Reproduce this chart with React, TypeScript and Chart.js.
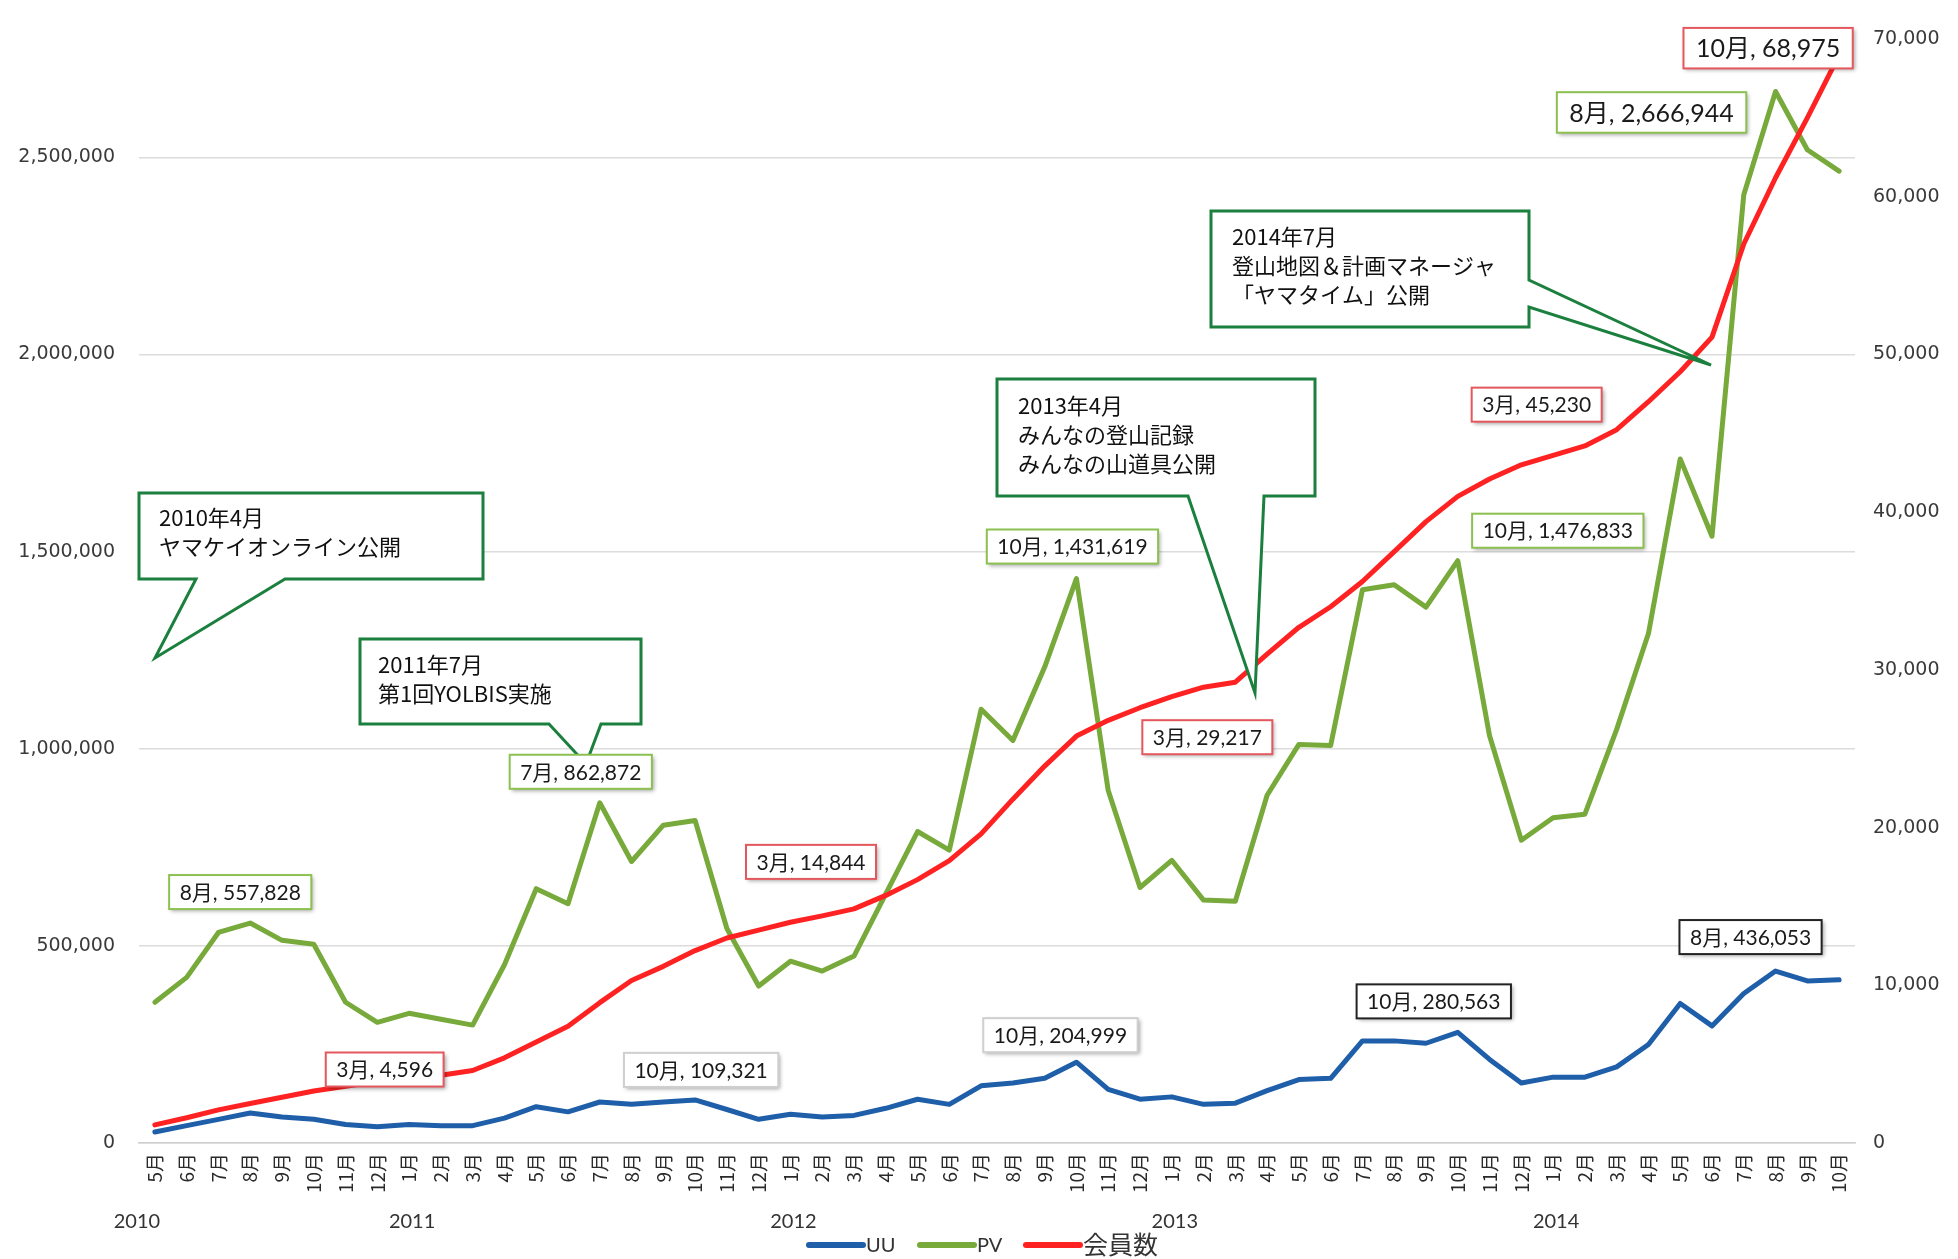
import { useEffect, useRef } from 'react';
import { Chart, registerables } from 'chart.js';

Chart.register(...registerables);

// ---------- data ----------
const months = [
  '5月', '6月', '7月', '8月', '9月', '10月', '11月', '12月',
  '1月', '2月', '3月', '4月', '5月', '6月', '7月', '8月', '9月', '10月', '11月', '12月',
  '1月', '2月', '3月', '4月', '5月', '6月', '7月', '8月', '9月', '10月', '11月', '12月',
  '1月', '2月', '3月', '4月', '5月', '6月', '7月', '8月', '9月', '10月', '11月', '12月',
  '1月', '2月', '3月', '4月', '5月', '6月', '7月', '8月', '9月', '10月',
];
const years = ['2010', '2011', '2012', '2013', '2014'];
const yearStartIndex = [0, 8, 20, 32, 44];

const uu = [
  28000, 44000, 60000, 76000, 66000, 60000, 47000, 41000,
  47000, 44000, 44000, 63000, 92000, 79000, 104000, 98000, 104000, 109321, 85000, 60000,
  73000, 66000, 70000, 88000, 111000, 98000, 145000, 152000, 164000, 204999, 136000, 111000,
  117000, 98000, 101000, 133000, 161000, 164000, 259000, 259000, 253000, 280563, 212000, 152000,
  167000, 167000, 193000, 250000, 354000, 297000, 379000, 436053, 411000, 414000,
];
const pv = [
  357000, 420000, 534000, 557828, 514000, 504000, 357000, 306000,
  329000, 314000, 299000, 452000, 645000, 607000, 862872, 714000, 806000, 818000, 544000, 398000,
  461000, 436000, 474000, 632000, 790000, 743000, 1100000, 1021000, 1207000, 1431619, 894000, 648000,
  717000, 616000, 613000, 882000, 1011000, 1008000, 1403000, 1416000, 1359000, 1476833, 1033000, 768000,
  825000, 834000, 1049000, 1292000, 1735000, 1539000, 2405000, 2666944, 2519000, 2465000,
];
const members = [
  1150, 1600, 2100, 2500, 2900, 3300, 3600, 3900,
  4000, 4300, 4596, 5400, 6400, 7400, 8900, 10300, 11200, 12200, 13000, 13500,
  14000, 14400, 14844, 15700, 16700, 17900, 19600, 21800, 23900, 25800, 26800, 27600,
  28300, 28900, 29217, 31000, 32700, 34000, 35600, 37500, 39400, 41000, 42100, 43000,
  43600, 44200, 45230, 47000, 48900, 51100, 57000, 61200, 65000, 68975,
];
const seriesNames = ['UU', 'PV', '会員数'];

const leftTicks = [0, 500000, 1000000, 1500000, 2000000, 2500000];
const leftMax = 2800000;
const rightTicks = [0, 10000, 20000, 30000, 40000, 50000, 60000, 70000];
const rightMax = 70000;

// labelled points (indices)
const labelledUU = [17, 29, 41, 51];
const labelledPV = [3, 14, 29, 41, 51];
const labelledMembers = [10, 22, 34, 46, 53];

const calloutTexts = [
  ['2010年4月', 'ヤマケイオンライン公開'],
  ['2011年7月', '第1回YOLBIS実施'],
  ['2013年4月', 'みんなの登山記録', 'みんなの山道具公開'],
  ['2014年7月', '登山地図＆計画マネージャ', '「ヤマタイム」公開'],
];

// ---------- styles / placement ----------
const COLORS = { uu: '#1f5ea8', pv: '#77a93b', members: '#ff2222' };
const LABEL_FONT = "Lato, 'Noto Sans CJK JP', sans-serif";
const CJK_FONT = "'Noto Sans CJK JP', sans-serif";
const TICK_FONT = "'DejaVu Sans', sans-serif";

const uuPlace = [
  { dx: 6, dy: -30, border: '#cfcfcf', size: 21 },
  { dx: -16, dy: -27, border: '#cfcfcf', size: 21 },
  { dx: -24, dy: -31, border: '#222222', size: 21 },
  { dx: -25, dy: -34, border: '#222222', size: 21 },
];
const pvPlace = [
  { dx: -10, dy: -31, size: 21 },
  { dx: -19, dy: -31, size: 21 },
  { dx: -4, dy: -32, size: 21 },
  { dx: 100, dy: -30, size: 21 },
  { dx: -124, dy: 21, size: 25 },
];
const memPlace = [
  { dx: -88, dy: -1, size: 21 },
  { dx: -43, dy: -47, size: 21 },
  { dx: -28, dy: 55, size: 21 },
  { dx: -80, dy: -25, size: 21 },
  { dx: -71, dy: -7, size: 25 },
];

const calloutGeom = [
  { x0: 139, y0: 493, x1: 483, y1: 579, side: 'bottom', b1: 196, b2: 285, tx: 155, ty: 658, tX: 159, tY: 518 },
  { x0: 360, y0: 639, x1: 641, y1: 724, side: 'bottom', b1: 549, b2: 601, tx: 586, ty: 764, tX: 378, tY: 665 },
  { x0: 997, y0: 379, x1: 1315, y1: 496, side: 'bottom', b1: 1188, b2: 1264, tx: 1255, ty: 693, tX: 1018, tY: 406 },
  { x0: 1211, y0: 211, x1: 1529, y1: 327, side: 'right', b1: 280, b2: 307, tx: 1711, ty: 365, tX: 1232, tY: 237 },
];

const fmt = (v: number) => v.toLocaleString('en-US');

function drawLabelBox(ctx: CanvasRenderingContext2D, cx: number, cy: number, text: string, size: number, border: string) {
  ctx.save();
  ctx.font = `${size}px ${LABEL_FONT}`;
  const tw = ctx.measureText(text).width;
  const padX = size * 0.5;
  const w = tw + padX * 2;
  const h = size * 1.62;
  const x = cx - w / 2;
  const y = cy - h / 2;
  ctx.shadowColor = 'rgba(0,0,0,0.35)';
  ctx.shadowBlur = 4;
  ctx.shadowOffsetX = 2;
  ctx.shadowOffsetY = 2;
  ctx.fillStyle = '#ffffff';
  ctx.fillRect(x, y, w, h);
  ctx.shadowColor = 'transparent';
  ctx.strokeStyle = border;
  ctx.lineWidth = 2;
  ctx.strokeRect(x, y, w, h);
  ctx.fillStyle = '#1a1a1a';
  ctx.textAlign = 'center';
  ctx.textBaseline = 'middle';
  ctx.fillText(text, cx, cy + 1);
  ctx.restore();
}

function drawCallout(ctx: CanvasRenderingContext2D, g: any, lines: string[]) {
  ctx.save();
  ctx.beginPath();
  if (g.side === 'bottom') {
    ctx.moveTo(g.x0, g.y0);
    ctx.lineTo(g.x1, g.y0);
    ctx.lineTo(g.x1, g.y1);
    ctx.lineTo(g.b2, g.y1);
    ctx.lineTo(g.tx, g.ty);
    ctx.lineTo(g.b1, g.y1);
    ctx.lineTo(g.x0, g.y1);
  } else {
    ctx.moveTo(g.x0, g.y0);
    ctx.lineTo(g.x1, g.y0);
    ctx.lineTo(g.x1, g.b1);
    ctx.lineTo(g.tx, g.ty);
    ctx.lineTo(g.x1, g.b2);
    ctx.lineTo(g.x1, g.y1);
    ctx.lineTo(g.x0, g.y1);
  }
  ctx.closePath();
  ctx.fillStyle = '#ffffff';
  ctx.fill();
  ctx.lineJoin = 'miter';
  ctx.strokeStyle = '#1b7f3e';
  ctx.lineWidth = 3;
  ctx.stroke();
  ctx.fillStyle = '#111111';
  ctx.font = `22px ${CJK_FONT}`;
  ctx.textAlign = 'left';
  ctx.textBaseline = 'middle';
  lines.forEach((l, i) => ctx.fillText(l, g.tX, g.tY + i * 29));
  ctx.restore();
}

const overlayPlugin = {
  id: 'overlay',
  afterDatasetsDraw(chart: any) {
    const ctx = chart.ctx as CanvasRenderingContext2D;
    const xs = chart.scales.x;
    const yl = chart.scales.y;
    const yr = chart.scales.y1;

    calloutGeom.forEach((g, i) => drawCallout(ctx, g, calloutTexts[i]));

    labelledPV.forEach((idx, k) => {
      const p = pvPlace[k];
      drawLabelBox(ctx, xs.getPixelForValue(idx) + p.dx, yl.getPixelForValue(pv[idx]) + p.dy,
        `${months[idx]}, ${fmt(pv[idx])}`, p.size, '#8cc152');
    });
    labelledMembers.forEach((idx, k) => {
      const p = memPlace[k];
      drawLabelBox(ctx, xs.getPixelForValue(idx) + p.dx, yr.getPixelForValue(members[idx]) + p.dy,
        `${months[idx]}, ${fmt(members[idx])}`, p.size, '#e4585d');
    });
    labelledUU.forEach((idx, k) => {
      const p = uuPlace[k];
      drawLabelBox(ctx, xs.getPixelForValue(idx) + p.dx, yl.getPixelForValue(uu[idx]) + p.dy,
        `${months[idx]}, ${fmt(uu[idx])}`, p.size, p.border);
    });
  },
  afterDraw(chart: any) {
    const ctx = chart.ctx as CanvasRenderingContext2D;
    const xs = chart.scales.x;
    ctx.save();
    // year labels
    ctx.font = `20px ${LABEL_FONT}`;
    ctx.fillStyle = '#333333';
    ctx.textAlign = 'center';
    ctx.textBaseline = 'middle';
    years.forEach((y, i) => {
      const shift = i === 0 ? -18 : 3;
      ctx.fillText(y, xs.getPixelForValue(yearStartIndex[i]) + shift, 1222);
    });
    // legend
    const colors = [COLORS.uu, COLORS.pv, COLORS.members];
    const lineStarts = [809, 920, 1026];
    const fontSizes = [20, 20, 25];
    const ly = 1245;
    seriesNames.forEach((name, i) => {
      ctx.strokeStyle = colors[i];
      ctx.lineWidth = 6;
      ctx.lineCap = 'round';
      ctx.beginPath();
      ctx.moveTo(lineStarts[i], ly);
      ctx.lineTo(lineStarts[i] + 54, ly);
      ctx.stroke();
      ctx.font = `${fontSizes[i]}px ${LABEL_FONT}`;
      ctx.fillStyle = '#333333';
      ctx.textAlign = 'left';
      ctx.fillText(name, lineStarts[i] + 57, ly + 1);
    });
    ctx.restore();
  },
};

export default function App() {
  const ref = useRef<HTMLCanvasElement | null>(null);

  useEffect(() => {
    if (!ref.current) return;
    const common = { pointRadius: 0, pointHoverRadius: 0, borderWidth: 5, tension: 0, fill: false, borderJoinStyle: 'round' as const, borderCapStyle: 'round' as const };
    const chart = new Chart(ref.current, {
      type: 'line',
      data: {
        labels: months,
        datasets: [
          { ...common, label: seriesNames[0], data: uu, borderColor: COLORS.uu, backgroundColor: COLORS.uu, yAxisID: 'y', order: 3 },
          { ...common, label: seriesNames[1], data: pv, borderColor: COLORS.pv, backgroundColor: COLORS.pv, yAxisID: 'y', order: 2 },
          { ...common, label: seriesNames[2], data: members, borderColor: COLORS.members, backgroundColor: COLORS.members, yAxisID: 'y1', order: 1 },
        ],
      },
      options: {
        animation: false,
        responsive: false,
        devicePixelRatio: 1,
        layout: { padding: { top: 39, left: 0, right: 0, bottom: 0 } },
        plugins: { legend: { display: false }, tooltip: { enabled: false } },
        scales: {
          x: {
            offset: true,
            grid: { display: false, drawTicks: false },
            border: { display: true, color: '#cfcfcf', width: 1.5 },
            ticks: {
              autoSkip: false,
              maxRotation: 90,
              minRotation: 90,
              padding: 10,
              color: '#2a2a2a',
              font: { family: CJK_FONT, size: 19 },
            },
            afterFit: (s: any) => { s.height = 116; },
          },
          y: {
            position: 'left',
            min: 0,
            max: leftMax,
            ticks: {
              autoSkip: false,
              padding: 24,
              color: '#3a3a3a',
              font: { family: TICK_FONT, size: 19 },
              callback: (v: any) => fmt(Number(v)),
            },
            grid: { color: '#dcdcdc', lineWidth: 1.5, drawTicks: false },
            border: { display: false },
            afterBuildTicks: (s: any) => { s.ticks = leftTicks.map((v) => ({ value: v })); },
            afterFit: (s: any) => { s.width = 139; },
          },
          y1: {
            position: 'right',
            min: 0,
            max: rightMax,
            ticks: {
              autoSkip: false,
              padding: 18,
              color: '#3a3a3a',
              font: { family: TICK_FONT, size: 19 },
              callback: (v: any) => fmt(Number(v)),
            },
            grid: { display: false, drawTicks: false },
            border: { display: false },
            afterBuildTicks: (s: any) => { s.ticks = rightTicks.map((v) => ({ value: v })); },
            afterFit: (s: any) => { s.width = 103; },
          },
        },
      },
      plugins: [overlayPlugin],
    } as any);
    return () => chart.destroy();
  }, []);

  return (
    <div style={{ position: 'absolute', left: 0, top: 0, width: 1958, height: 1259, background: '#ffffff' }}>
      <canvas ref={ref} width={1958} height={1259} style={{ display: 'block', width: 1958, height: 1259 }} />
    </div>
  );
}
